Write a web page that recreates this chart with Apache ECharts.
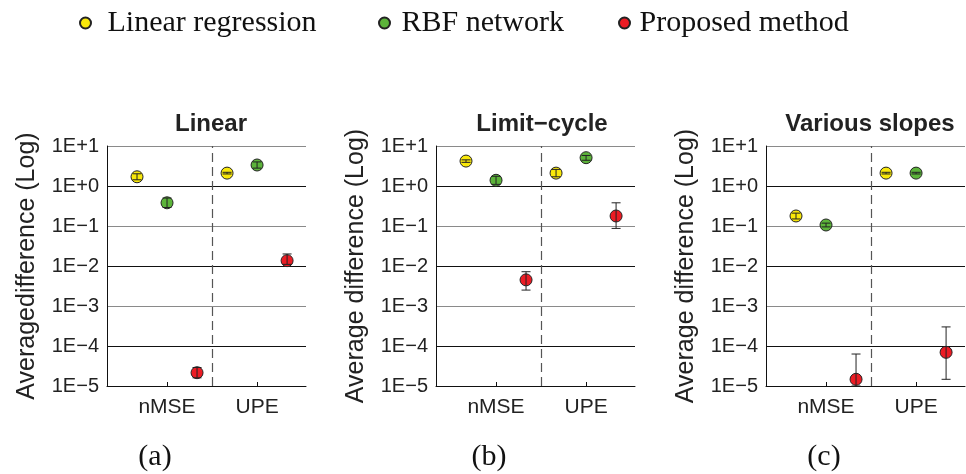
<!DOCTYPE html>
<html>
<head>
<meta charset="utf-8">
<title>Average difference</title>
<script src="https://cdn.jsdelivr.net/npm/echarts@6/dist/echarts.min.js"></script>
<style>
  html, body { margin: 0; padding: 0; background: #fff; }
  #chart { width: 966px; height: 474px; }
</style>
</head>
<body>
<div id="chart"></div>
<script>
// legend entries and metric categories
const methods = ['Linear regression', 'RBF network', 'Proposed method'];
const methodColors = ['#f9e80a', '#5cb43a', '#ec1c24'];
const metrics = ['nMSE', 'UPE'];
const panelTitles = ['Linear', 'Limit\u2212cycle', 'Various slopes'];
const panelLabels = ['(a)', '(b)', '(c)'];
const yNames = ['Averagedifference (Log)', 'Average difference (Log)', 'Average difference (Log)'];
const yTickLabels = ['1E\u22125', '1E\u22124', '1E\u22123', '1E\u22122', '1E\u22121', '1E+0', '1E+1'];

// rows = methods, columns = [nMSE, UPE]
const linearMean = [[1.7, 2.1], [0.38, 3.35], [2.15e-5, 0.0136]];
const linearLow  = [[1.43, 2.0], [0.29, 2.8], [1.6e-5, 0.011]];
const linearHigh = [[2.02, 2.2], [0.5, 4.0], [2.9e-5, 0.02]];

const limitMean = [[4.2, 2.1], [1.39, 5.1], [0.0045, 0.178]];
const limitLow  = [[3.9, 1.7], [1.1, 4.4], [0.0025, 0.087]];
const limitHigh = [[4.5, 2.6], [1.75, 5.8], [0.0072, 0.38]];

const slopesMean = [[0.178, 2.1], [0.106, 2.1], [1.47e-5, 6.95e-5]];
const slopesLow  = [[0.15, 2.0], [0.095, 2.0], [1.0e-5, 1.47e-5]];
const slopesHigh = [[0.21, 2.2], [0.118, 2.2], [6.3e-5, 3.0e-4]];

const panelMeans = [linearMean, limitMean, slopesMean];
const panelLows = [linearLow, limitLow, slopesLow];
const panelHighs = [linearHigh, limitHigh, slopesHigh];

// x placement: metric block start + method slot
const xTicks = [2, 5];
const dividerX = 3.5;
const xPos = (m, k) => m * 3 + k + 1;

const gridLefts = [107, 436, 766];
const gridWidth = 199;
const titleCenters = [206, 537, 865];
const labelCenters = [150, 484, 819];

const chart = echarts.init(document.getElementById('chart'));

const sans = 'Liberation Sans, Arial, sans-serif';
const serif = 'Liberation Serif, Times New Roman, serif';

const grids = [], xAxes = [], yAxes = [], series = [], titles = [];

gridLefts.forEach((left, i) => {
  grids.push({ left: left, top: 146, width: gridWidth, height: 240 });

  xAxes.push({
    gridIndex: i,
    type: 'value',
    min: 0,
    max: 6.63,
    splitLine: { show: false },
    axisLine: { lineStyle: { color: '#111', width: 1 } },
    axisTick: { inside: true, length: 4, customValues: xTicks, lineStyle: { color: '#111' } },
    axisLabel: {
      customValues: xTicks,
      formatter: v => metrics[xTicks.indexOf(v)],
      margin: 11,
      fontSize: 21,
      color: '#222',
      fontFamily: sans
    }
  });

  yAxes.push({
    gridIndex: i,
    type: 'log',
    logBase: 10,
    min: 1e-5,
    max: 10,
    name: yNames[i],
    nameLocation: 'middle',
    nameGap: 67,
    nameTextStyle: { fontSize: 25, color: '#222', fontFamily: sans },
    axisLine: { show: true, lineStyle: { color: '#111', width: 1 } },
    axisTick: { show: false },
    axisLabel: {
      formatter: v => yTickLabels[Math.round(Math.log10(v)) + 5],
      margin: 8,
      fontSize: 20,
      color: '#222',
      fontFamily: sans
    },
    splitLine: {
      show: true,
      lineStyle: {
        color: ['#111', '#111', '#8a8a8a', '#111', '#8a8a8a', '#111', '#8a8a8a'],
        width: 1.2
      }
    }
  });

  titles.push({
    text: panelTitles[i],
    left: titleCenters[i],
    top: 107,
    textAlign: 'center',
    textStyle: { fontSize: 24, fontWeight: 'bold', color: '#222', fontFamily: sans }
  });
  titles.push({
    text: panelLabels[i],
    left: labelCenters[i],
    top: 437,
    textAlign: 'center',
    textStyle: { fontSize: 30, fontWeight: 'normal', color: '#111', fontFamily: serif }
  });

  const errData = [];
  methods.forEach((name, k) => {
    const pts = metrics.map((_, m) => [xPos(m, k), panelMeans[i][k][m]]);
    metrics.forEach((_, m) => {
      errData.push([xPos(m, k), panelLows[i][k][m], panelHighs[i][k][m]]);
    });
    const s = {
      name: name,
      type: 'scatter',
      xAxisIndex: i,
      yAxisIndex: i,
      data: pts,
      symbol: 'circle',
      symbolSize: 12,
      itemStyle: { color: methodColors[k], borderColor: '#222', borderWidth: 1, opacity: 1 },
      z: 3
    };
    if (k === 0) {
      s.markLine = {
        silent: true,
        symbol: 'none',
        label: { show: false },
        lineStyle: { color: '#555', type: [9, 5], width: 1.2 },
        data: [{ xAxis: dividerX }]
      };
    }
    series.push(s);
  });

  series.push({
    type: 'custom',
    xAxisIndex: i,
    yAxisIndex: i,
    data: errData,
    encode: { x: 0, y: [1, 2] },
    z: 4,
    silent: true,
    renderItem: (params, api) => {
      const x = api.value(0);
      const lo = api.coord([x, api.value(1)]);
      const hi = api.coord([x, api.value(2)]);
      const cap = 4.5;
      const st = { stroke: '#222', lineWidth: 1 };
      return {
        type: 'group',
        children: [
          { type: 'line', shape: { x1: lo[0], y1: lo[1], x2: hi[0], y2: hi[1] }, style: st },
          { type: 'line', shape: { x1: hi[0] - cap, y1: hi[1], x2: hi[0] + cap, y2: hi[1] }, style: st },
          { type: 'line', shape: { x1: lo[0] - cap, y1: lo[1], x2: lo[0] + cap, y2: lo[1] }, style: st }
        ]
      };
    }
  });
});

// one legend per entry so each can sit where it does in the figure
const legendLefts = [74, 373, 613];
const legendIconWidths = [34, 24, 20];
const legends = methods.map((name, k) => ({
  data: [name],
  left: legendLefts[k],
  top: 3,
  itemWidth: legendIconWidths[k],
  itemHeight: 11,
  icon: 'circle',
  selectedMode: false,
  textStyle: { fontSize: 30, color: '#111', fontFamily: serif }
}));

chart.setOption({
  animation: false,
  title: titles,
  legend: legends,
  grid: grids,
  xAxis: xAxes,
  yAxis: yAxes,
  series: series
});
</script>
</body>
</html>
